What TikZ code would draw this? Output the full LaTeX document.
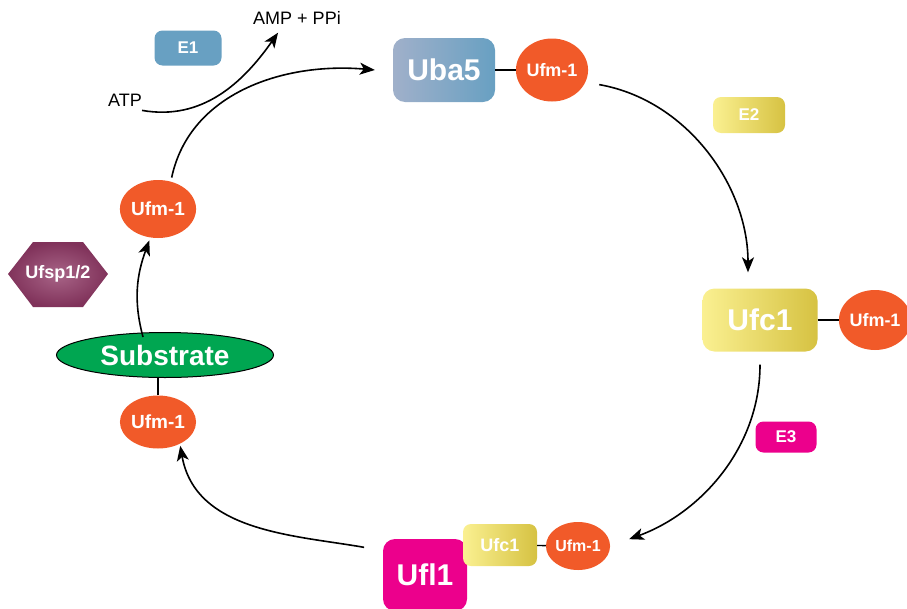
\documentclass[tikz,border=0pt]{standalone}
\usepackage{fontspec}
\setmainfont{Liberation Sans}
\usetikzlibrary{shapes.geometric,arrows.meta}

\definecolor{ufmorange}{RGB}{241,90,41}
\definecolor{eoneblue}{RGB}{104,160,194}
\definecolor{ubagray}{RGB}{160,176,202}
\definecolor{ylight}{RGB}{250,240,145}
\definecolor{ydark}{RGB}{214,194,66}
\definecolor{uflpink}{RGB}{236,0,140}
\definecolor{subgreen}{RGB}{0,166,81}
\definecolor{ufspdark}{RGB}{128,50,90}
\definecolor{ufsplight}{RGB}{168,100,135}

\begin{document}
\begin{tikzpicture}[x=1pt,y=-1pt,
  ufm/.style={ellipse, fill=ufmorange, text=white, inner sep=0pt,
    font=\bfseries\fontsize{18}{18}\selectfont},
  enz/.style={rounded corners=8pt, inner sep=0pt, text=white,
    font=\bfseries\fontsize{17}{17}\selectfont},
  big/.style={rounded corners=12pt, inner sep=0pt, text=white,
    font=\bfseries\fontsize{30}{30}\selectfont},
  yel/.style={left color=ylight, right color=ydark},
  arr/.style={-{Stealth[length=15pt,width=12pt,inset=4pt]}, line width=1.6pt},
  link/.style={line width=1.4pt}]

\useasboundingbox (0,0) rectangle (907,608);

% --- E1 step: Uba5 ---
\node[enz, fill=eoneblue, minimum width=67pt, minimum height=35pt] (eone) at (188,48) {E1};
\node[big, left color=ubagray, right color=eoneblue, minimum width=102pt, minimum height=64pt] (uba) at (444,70) {Uba5};
\node[ufm, minimum width=64pt, minimum height=63pt] (ufma) at (552,70) {Ufm-1};
\draw[link] (uba) -- (ufma);

\node[inner sep=0pt, font=\fontsize{18}{18}\selectfont] (amp) at (297,18) {AMP + PPi};
\node[inner sep=0pt, font=\fontsize{18}{18}\selectfont] (atp) at (125,100) {ATP};

% --- E2 step: Ufc1 ---
\node[enz, yel, minimum width=72pt, minimum height=36pt] (etwo) at (749,115) {E2};
\node[big, yel, minimum width=115pt, minimum height=63pt] (ufc) at (760,320) {Ufc1};
\node[ufm, minimum width=64pt, minimum height=60pt] (ufmb) at (875,320) {Ufm-1};
\draw[link] (ufc) -- (ufmb);

% --- E3 step: Ufl1 ---
\node[enz, fill=uflpink, minimum width=61pt, minimum height=31pt] (ethree) at (786,437) {E3};
\node[big, fill=uflpink, minimum width=84pt, minimum height=72pt] (ufl) at (425,575) {Ufl1};
\node[enz, yel, minimum width=74pt, minimum height=42pt, font=\bfseries\fontsize{18}{18}\selectfont] (ufcs) at (500,545) {Ufc1};
\node[ufm, minimum width=55pt, minimum height=48pt, font=\bfseries\fontsize{16}{16}\selectfont] (ufmc) at (578,546) {Ufm-1};
\draw[link] (ufcs) -- (ufmc);

% --- substrate and Ufsp1/2 ---
\node[ellipse, draw, line width=1pt, fill=subgreen, text=white, inner sep=0pt,
  minimum width=217pt, minimum height=45pt, font=\bfseries\fontsize{28}{28}\selectfont] (sub) at (165,355) {Substrate};
\node[ufm, minimum width=70pt, minimum height=53pt, font=\bfseries\fontsize{19}{19}\selectfont] (ufmd) at (158,422) {Ufm-1};
\draw[link] (ufmd.north) -- (ufmd.north |- sub.south);
\node[ufm, minimum width=68pt, minimum height=58pt, font=\bfseries\fontsize{19}{19}\selectfont] (ufme) at (158,209) {Ufm-1};

\shade[inner color=ufsplight, outer color=ufspdark]
  (8,274) -- (33,242) -- (83,242) -- (108,274) -- (83,307) -- (33,307) -- cycle;
\node[text=white, font=\bfseries\fontsize{18}{18}\selectfont] (ufsp) at (58,274) {Ufsp1/2};

% --- arrows of the cycle ---
\draw[arr, shorten <=4pt] (ufme.65) to[out=78, in=175] ([xshift=-18pt]uba.west);
\draw[arr] ([yshift=-4pt]atp.south east) to[out=-10, in=235] ([xshift=25pt,yshift=-8pt]amp.south west);
\draw[arr, shorten <=14pt, shorten >=16pt] (ufma.-20) to[out=-10, in=90] ([xshift=-12pt]ufc.north);
\draw[arr, shorten <=13pt, shorten >=20pt] (ufc.south) to[out=-90, in=20] (ufmc.east);
\draw[arr, shorten <=19pt, shorten >=2pt] (ufl.150) to[out=170, in=-80] (ufmd.-45);
\draw[arr, shorten >=3pt] ([xshift=-22pt,yshift=-5pt]sub.north) to[out=105, in=-110] (ufme.-105);

\end{tikzpicture}
\end{document}
